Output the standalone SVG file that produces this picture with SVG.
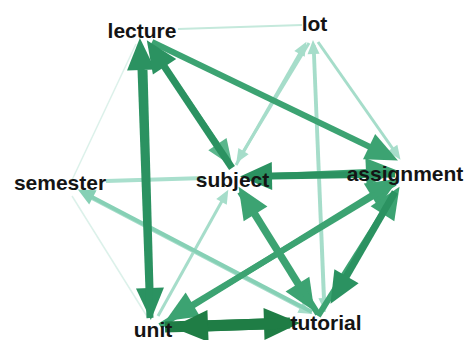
<svg xmlns="http://www.w3.org/2000/svg" width="465" height="340" viewBox="0 0 465 340">
<style>
.e{fill:none;stroke-linecap:butt}
.dk{stroke:#1f7d45;stroke-width:11;marker-end:url(#mk-dk)}
.m1{stroke:#2b9261;stroke-width:7;marker-end:url(#mk-m1)}
.m2{stroke:#3ca372;stroke-width:6;marker-end:url(#mk-m2)}
.m3{stroke:#5ab68c;stroke-width:5;marker-end:url(#mk-m3)}
.lt{stroke:#a6ddca;stroke-width:3;marker-end:url(#mk-lt)}
.mt{stroke:#86d0b5;stroke-width:4;marker-end:url(#mk-mt)}
.sj{stroke:#a9dfcd;stroke-width:4}
.lo{stroke:#c5e9dc;stroke-width:2}
.fa{stroke:#dcf1ea;stroke-width:1.5}
.lbl{font-family:"Liberation Sans",Arial,sans-serif;font-weight:bold;font-size:21px;fill:#141414;text-anchor:middle}
</style>
<defs>
<marker id="mk-dk" markerUnits="userSpaceOnUse" markerWidth="40" markerHeight="40" refX="0" refY="0" orient="auto" overflow="visible"><path d="M-1,-16 L35,0 L-1,16 z" fill="#1f7d45"/></marker>
<marker id="mk-m1" markerUnits="userSpaceOnUse" markerWidth="40" markerHeight="40" refX="0" refY="0" orient="auto" overflow="visible"><path d="M-1,-14 L31,0 L-1,14 z" fill="#2b9261"/></marker>
<marker id="mk-m2" markerUnits="userSpaceOnUse" markerWidth="40" markerHeight="40" refX="0" refY="0" orient="auto" overflow="visible"><path d="M-1,-14 L31,0 L-1,14 z" fill="#3ca372"/></marker>
<marker id="mk-m3" markerUnits="userSpaceOnUse" markerWidth="40" markerHeight="40" refX="0" refY="0" orient="auto" overflow="visible"><path d="M-1,-11 L26,0 L-1,11 z" fill="#5ab68c"/></marker>
<marker id="mk-lt" markerUnits="userSpaceOnUse" markerWidth="20" markerHeight="20" refX="0" refY="0" orient="auto" overflow="visible"><path d="M-1,-6 L13,0 L-1,6 z" fill="#a6ddca"/></marker>
<marker id="mk-mt" markerUnits="userSpaceOnUse" markerWidth="20" markerHeight="20" refX="0" refY="0" orient="auto" overflow="visible"><path d="M-1,-8 L16,0 L-1,8 z" fill="#86d0b5"/></marker>
</defs>
<g id="connectors">
<line class="e fa" x1="136" y1="44" x2="72" y2="180"/>
<line class="e fa" x1="72" y1="196" x2="148" y2="318"/>
<line class="e lo" x1="178" y1="29" x2="302" y2="25"/>
<line class="e sj" x1="106" y1="181" x2="205" y2="178"/>
<line class="e lt" x1="309" y1="43" x2="243" y2="152"/>
<line class="e lt" x1="158" y1="316" x2="222" y2="201"/>
<line class="e lt" x1="314" y1="45" x2="324.5" y2="299"/>
<line class="e lt" x1="324" y1="312" x2="313.5" y2="53"/>
<line class="e lt" x1="236" y1="165" x2="300" y2="53"/>
<line class="e lt" x1="318" y1="42" x2="393" y2="149"/>
<line class="e lt" x1="85" y1="195" x2="301" y2="308"/>
<line class="e mt" x1="312" y1="312" x2="92" y2="197"/>
<line class="e m3" x1="150" y1="45" x2="218" y2="145"/>
<line class="e m2" x1="152" y1="42" x2="370" y2="147"/>
<line class="e m2" x1="250" y1="177" x2="367" y2="172"/>
<line class="e m2" x1="160" y1="326" x2="372" y2="195"/>
<line class="e m2" x1="395" y1="183" x2="192" y2="305"/>
<line class="e m2" x1="318" y1="316" x2="383" y2="213"/>
<line class="e m2" x1="240" y1="192" x2="298" y2="285"/>
<line class="e m2" x1="318" y1="314" x2="255" y2="213"/>
<line class="e m1" x1="395" y1="192" x2="346" y2="277"/>
<line class="e m1" x1="395" y1="174" x2="271" y2="176"/>
<line class="e m1" x1="144" y1="70" x2="150" y2="289"/>
<line class="e m1" x1="150" y1="318" x2="141" y2="69"/>
<line class="e m1" x1="232" y1="168" x2="164" y2="66"/>
<line class="e dk" x1="165" y1="327" x2="265" y2="324"/>
<line class="e dk" x1="290" y1="323" x2="207" y2="326"/>
</g>
<g id="lecture"><text class="lbl" x="142" y="38">lecture</text></g>
<g id="lot"><text class="lbl" x="314.5" y="31">lot</text></g>
<g id="semester"><text class="lbl" x="60" y="190">semester</text></g>
<g id="subject"><text class="lbl" x="232.5" y="187">subject</text></g>
<g id="assignment"><text class="lbl" x="405" y="181">assignment</text></g>
<g id="unit"><text class="lbl" x="153" y="337">unit</text></g>
<g id="tutorial"><text class="lbl" x="326" y="330">tutorial</text></g>
</svg>
